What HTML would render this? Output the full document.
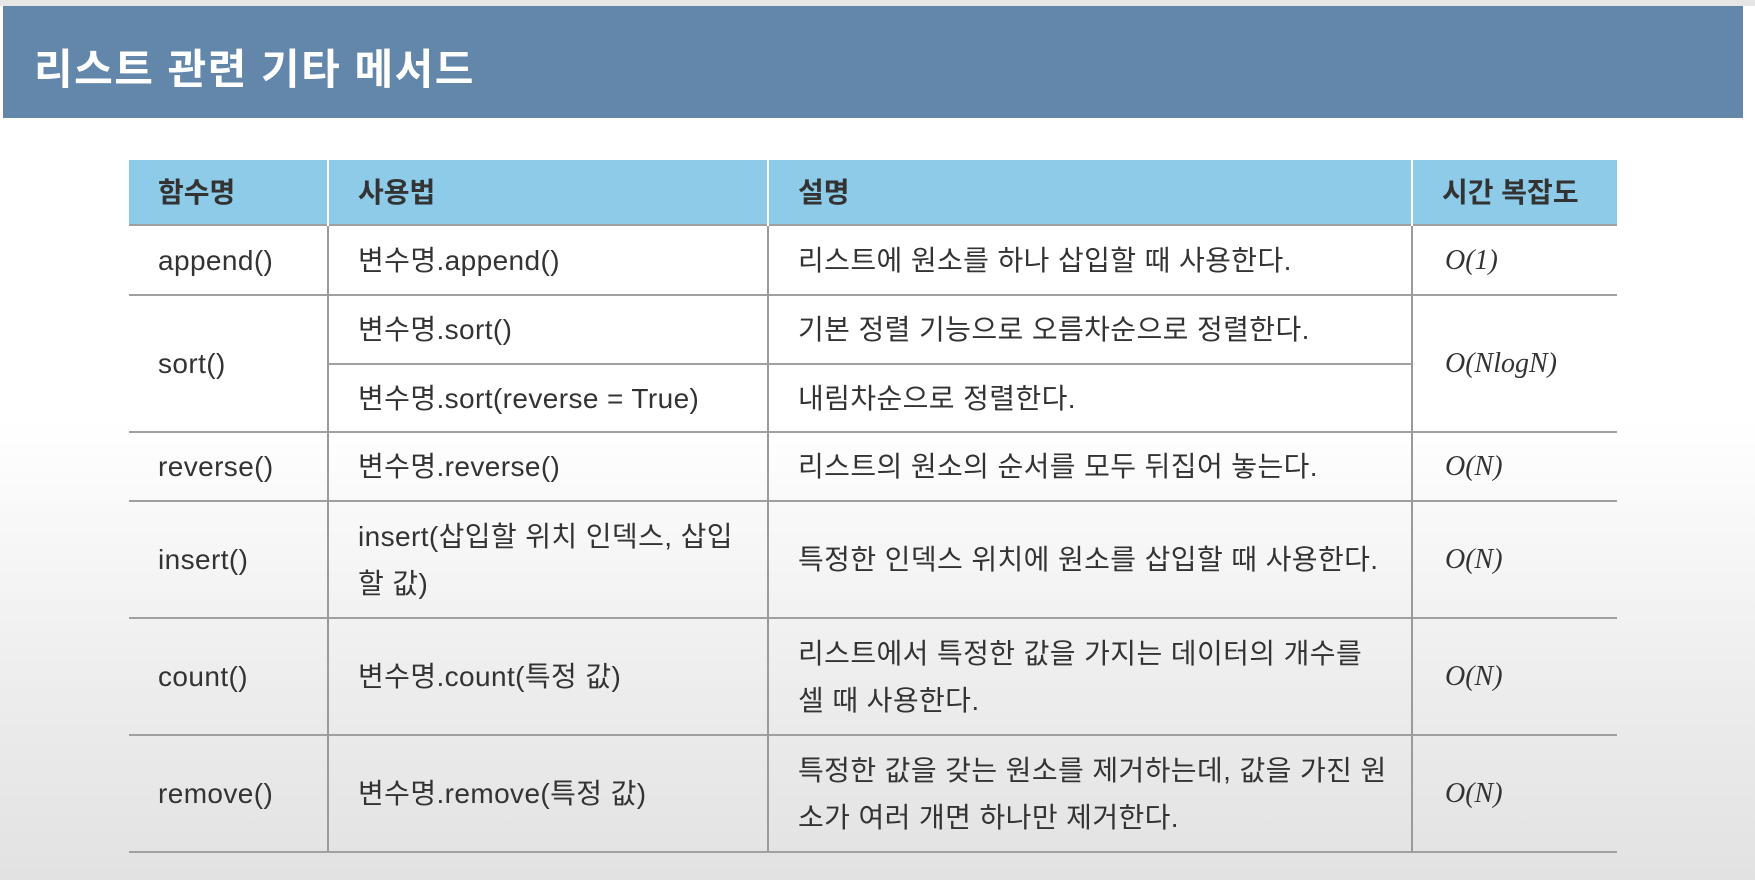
<!DOCTYPE html>
<html><head><meta charset="utf-8">
<style>
html,body{margin:0;padding:0;}
body{width:1755px;height:880px;overflow:hidden;position:relative;
background:linear-gradient(#ffffff 0px,#ffffff 420px,#ececec 700px,#e2e2e2 880px);
font-family:"Liberation Sans","Noto Sans CJK KR","NanumGothic",sans-serif;color:#333;}
#topstrip{position:absolute;left:0;top:0;width:1755px;height:6px;background:#e6e6e6;}
#title-bar{position:absolute;left:3px;top:6px;width:1740px;height:112px;background:#6386ab;}
#title{position:absolute;left:31px;top:30px;font-size:42px;font-weight:bold;color:#fff;letter-spacing:1.5px;}
table{position:absolute;left:129px;top:160px;width:1488px;border-collapse:collapse;table-layout:fixed;}
td,th{font-size:28px;font-weight:normal;text-align:left;padding:0 0 0 29px;border:0;line-height:47px;color:#333;}
th{background:#8dcbe8;height:64px;border-left:2px solid #fff;font-weight:bold;}
th:first-child{border-left:0;}
td{border-left:2px solid #9a9a9a;border-top:2px solid #a0a0a0;letter-spacing:0.4px;}
td.first{border-left:0;}
tbody tr:last-child td{border-bottom:2px solid #a0a0a0;}
.c{font-family:"Liberation Serif",serif;font-style:italic;padding-left:32px;letter-spacing:0;}
</style></head><body>
<div id="topstrip"></div>
<div id="title-bar"><div id="title">리스트 관련 기타 메서드</div></div>
<table>
<colgroup><col style="width:199px"><col style="width:440px"><col style="width:644px"><col style="width:205px"></colgroup>
<thead><tr>
<th>함수명</th>
<th>사용법</th>
<th>설명</th>
<th>시간 복잡도</th></tr></thead>
<tbody>
<tr style="height:70px"><td class="first">append()</td><td>변수명.append()</td><td>리스트에 원소를 하나 삽입할 때 사용한다.</td><td class="c">O(1)</td></tr>
<tr style="height:69px"><td class="first" rowspan="2">sort()</td><td>변수명.sort()</td><td>기본 정렬 기능으로 오름차순으로 정렬한다.</td><td class="c" rowspan="2">O(NlogN)</td></tr>
<tr style="height:68px"><td>변수명.sort(reverse = True)</td><td>내림차순으로 정렬한다.</td></tr>
<tr style="height:69px"><td class="first">reverse()</td><td>변수명.reverse()</td><td>리스트의 원소의 순서를 모두 뒤집어 놓는다.</td><td class="c">O(N)</td></tr>
<tr style="height:117px"><td class="first">insert()</td><td>insert(삽입할 위치 인덱스, 삽입<br>할 값)</td><td>특정한 인덱스 위치에 원소를 삽입할 때 사용한다.</td><td class="c">O(N)</td></tr>
<tr style="height:117px"><td class="first">count()</td><td>변수명.count(특정 값)</td><td>리스트에서 특정한 값을 가지는 데이터의 개수를<br>셀 때 사용한다.</td><td class="c">O(N)</td></tr>
<tr style="height:117px"><td class="first">remove()</td><td>변수명.remove(특정 값)</td><td>특정한 값을 갖는 원소를 제거하는데, 값을 가진 원<br>소가 여러 개면 하나만 제거한다.</td><td class="c">O(N)</td></tr>
</tbody></table>
</body></html>
